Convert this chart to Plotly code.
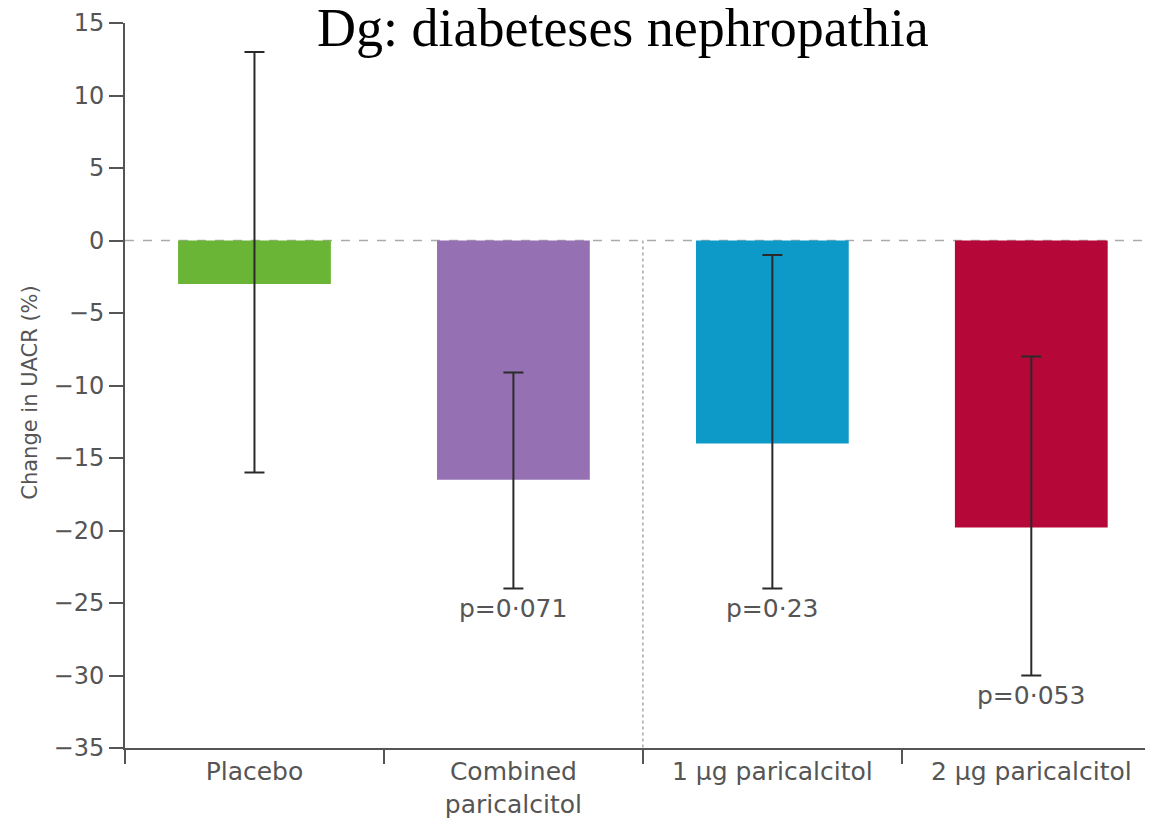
import plotly.graph_objects as go

categories = ["Placebo", "Combined<br>paricalcitol", "1 µg paricalcitol", "2 µg paricalcitol"]
values = [-3.0, -16.5, -14.0, -19.8]
upper = [13.0, -9.1, -1.0, -8.0]
lower = [-16.0, -24.0, -24.0, -30.0]
p_labels = ["", "p=0·071", "p=0·23", "p=0·053"]
colors = ["#6ab536", "#9570b3", "#0e9ac8", "#b50838"]
y_ticks = [15, 10, 5, 0, -5, -10, -15, -20, -25, -30, -35]

err_plus = [u - v for u, v in zip(upper, values)]
err_minus = [v - l for v, l in zip(values, lower)]

SANS = "DejaVu Sans"
GREY = "#555555"

fig = go.Figure()
fig.add_trace(go.Bar(
    x=categories, y=values, width=0.59,
    marker=dict(color=colors, line=dict(width=0)),
    error_y=dict(type="data", symmetric=False, array=err_plus, arrayminus=err_minus,
                 color="#2a2a2a", thickness=2, width=10),
    showlegend=False,
))

for c, l, p in zip(categories, lower, p_labels):
    if p:
        fig.add_annotation(x=c, y=l, text=p, showarrow=False, yanchor="top", yshift=-3,
                           font=dict(family=SANS, size=25, color=GREY))

# zero reference line and group separator
fig.add_shape(type="line", xref="paper", yref="y", x0=0, x1=1, y0=0, y1=0,
              line=dict(color="#aaaaaa", width=1.5, dash="dash"), layer="below")
fig.add_shape(type="line", xref="x", yref="y", x0=1.5, x1=1.5, y0=0, y1=-35,
              line=dict(color="#aaaaaa", width=1.5, dash="dot"), layer="below")

fig.add_annotation(xref="paper", yref="paper", x=-0.0924, xanchor="center", y=0.49,
                   text="Change in UACR (%)", textangle=-90, showarrow=False,
                   font=dict(family=SANS, size=21, color=GREY))

fig.update_layout(
    width=1145, height=817,
    margin=dict(l=117, r=0, t=15, b=77),
    paper_bgcolor="white", plot_bgcolor="white",
    title=dict(text="Dg: diabeteses nephropathia", x=0.537, xanchor="center",
               y=0.977, yanchor="middle",
               font=dict(family="Liberation Serif", size=54, color="black")),
    bargap=0.4,
)
fig.update_xaxes(
    range=[-0.5, 3.47], showline=True, linecolor=GREY, linewidth=2,
    ticks="outside", tickson="boundaries", ticklen=14, tickcolor=GREY, tickwidth=2,
    tickfont=dict(family=SANS, size=25, color=GREY), showgrid=False,
)
fig.update_yaxes(
    range=[-35, 15], tickvals=y_ticks, ticktext=[str(t).replace("-", "−") for t in y_ticks],
    showline=True, linecolor=GREY, linewidth=2,
    ticks="outside", ticklen=14, tickcolor=GREY, tickwidth=2,
    tickfont=dict(family=SANS, size=24, color=GREY),
    showgrid=False, zeroline=False,
)

fig.write_html("out.html")
